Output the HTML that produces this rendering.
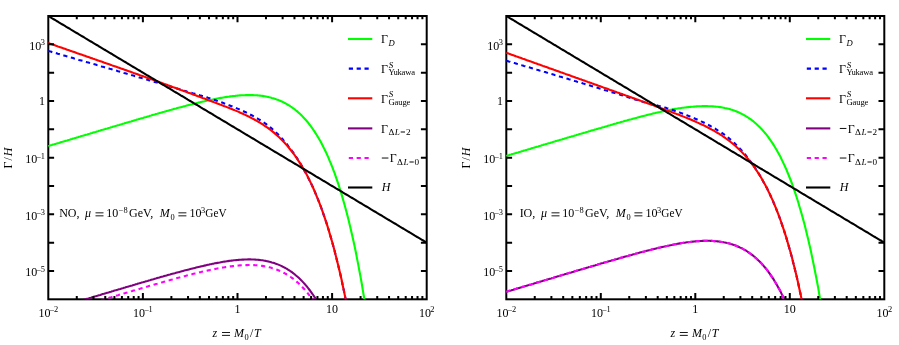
<!DOCTYPE html>
<html><head><meta charset="utf-8"><title>Rates</title>
<style>html,body{margin:0;padding:0;background:#fff;}body{width:899px;height:345px;overflow:hidden;font-family:"Liberation Serif",serif;}</style>
</head><body>
<svg width="899" height="345" viewBox="0 0 899 345" style="display:block;will-change:transform;transform:translateZ(0)">
<rect width="899" height="345" fill="#fff"/>
<defs><clipPath id="c0"><rect x="47.50" y="15.20" width="380.00" height="284.10"/></clipPath><clipPath id="c1"><rect x="505.50" y="15.20" width="379.60" height="284.10"/></clipPath></defs>
<rect x="48.30" y="16.00" width="378.40" height="283.30" stroke="#000" stroke-width="2.0" fill="none"/>
<g clip-path="url(#c0)" fill="none" stroke-width="2.1" stroke-linejoin="round">
<path d="M48.3,146.0 L49.5,145.7 L50.7,145.3 L51.8,145.0 L53.0,144.6 L54.2,144.3 L55.4,143.9 L56.6,143.6 L57.8,143.2 L58.9,142.9 L60.1,142.5 L61.3,142.1 L62.5,141.8 L63.7,141.4 L64.9,141.1 L66.0,140.7 L67.2,140.4 L68.4,140.0 L69.6,139.7 L70.8,139.3 L71.9,139.0 L73.1,138.6 L74.3,138.3 L75.5,137.9 L76.7,137.5 L77.9,137.2 L79.0,136.8 L80.2,136.5 L81.4,136.1 L82.6,135.8 L83.8,135.4 L85.0,135.1 L86.1,134.7 L87.3,134.4 L88.5,134.0 L89.7,133.7 L90.9,133.3 L92.1,133.0 L93.2,132.6 L94.4,132.2 L95.6,131.9 L96.8,131.5 L98.0,131.2 L99.1,130.8 L100.3,130.5 L101.5,130.1 L102.7,129.8 L103.9,129.4 L105.1,129.1 L106.2,128.7 L107.4,128.4 L108.6,128.0 L109.8,127.7 L111.0,127.3 L112.2,127.0 L113.3,126.6 L114.5,126.3 L115.7,125.9 L116.9,125.6 L118.1,125.2 L119.2,124.9 L120.4,124.5 L121.6,124.2 L122.8,123.8 L124.0,123.5 L125.2,123.1 L126.3,122.8 L127.5,122.4 L128.7,122.1 L129.9,121.7 L131.1,121.4 L132.3,121.0 L133.4,120.7 L134.6,120.3 L135.8,120.0 L137.0,119.6 L138.2,119.3 L139.4,118.9 L140.5,118.6 L141.7,118.2 L142.9,117.9 L144.1,117.5 L145.3,117.2 L146.4,116.9 L147.6,116.5 L148.8,116.2 L150.0,115.8 L151.2,115.5 L152.4,115.1 L153.5,114.8 L154.7,114.5 L155.9,114.1 L157.1,113.8 L158.3,113.4 L159.5,113.1 L160.6,112.8 L161.8,112.4 L163.0,112.1 L164.2,111.8 L165.4,111.4 L166.6,111.1 L167.7,110.8 L168.9,110.4 L170.1,110.1 L171.3,109.8 L172.5,109.4 L173.6,109.1 L174.8,108.8 L176.0,108.5 L177.2,108.1 L178.4,107.8 L179.6,107.5 L180.7,107.2 L181.9,106.9 L183.1,106.6 L184.3,106.2 L185.5,105.9 L186.7,105.6 L187.8,105.3 L189.0,105.0 L190.2,104.7 L191.4,104.4 L192.6,104.1 L193.7,103.8 L194.9,103.5 L196.1,103.2 L197.3,102.9 L198.5,102.6 L199.7,102.4 L200.8,102.1 L202.0,101.8 L203.2,101.5 L204.4,101.3 L205.6,101.0 L206.8,100.7 L207.9,100.5 L209.1,100.2 L210.3,99.9 L211.5,99.7 L212.7,99.5 L213.8,99.2 L215.0,99.0 L216.2,98.7 L217.4,98.5 L218.6,98.3 L219.8,98.1 L220.9,97.9 L222.1,97.7 L223.3,97.5 L224.5,97.3 L225.7,97.1 L226.9,96.9 L228.0,96.7 L229.2,96.6 L230.4,96.4 L231.6,96.3 L232.8,96.1 L234.0,96.0 L235.1,95.9 L236.3,95.7 L237.5,95.6 L238.7,95.5 L239.9,95.4 L241.0,95.3 L242.2,95.3 L243.4,95.2 L244.6,95.2 L245.8,95.1 L247.0,95.1 L248.1,95.1 L249.3,95.1 L250.5,95.1 L251.7,95.1 L252.9,95.1 L254.1,95.2 L255.2,95.2 L256.4,95.3 L257.6,95.4 L258.8,95.5 L260.0,95.6 L261.1,95.8 L262.3,95.9 L263.5,96.1 L264.7,96.3 L265.9,96.5 L267.1,96.7 L268.2,97.0 L269.4,97.3 L270.6,97.5 L271.8,97.9 L273.0,98.2 L274.2,98.6 L275.3,98.9 L276.5,99.4 L277.7,99.8 L278.9,100.3 L280.1,100.7 L281.3,101.3 L282.4,101.8 L283.6,102.4 L284.8,103.0 L286.0,103.6 L287.2,104.3 L288.3,105.0 L289.5,105.7 L290.7,106.5 L291.9,107.3 L293.1,108.2 L294.3,109.0 L295.4,110.0 L296.6,110.9 L297.8,111.9 L299.0,113.0 L300.2,114.1 L301.4,115.2 L302.5,116.4 L303.7,117.7 L304.9,119.0 L306.1,120.3 L307.3,121.7 L308.4,123.2 L309.6,124.7 L310.8,126.2 L312.0,127.9 L313.2,129.6 L314.4,131.3 L315.5,133.1 L316.7,135.0 L317.9,137.0 L319.1,139.0 L320.3,141.1 L321.5,143.3 L322.6,145.5 L323.8,147.9 L325.0,150.3 L326.2,152.8 L327.4,155.4 L328.6,158.1 L329.7,160.9 L330.9,163.7 L332.1,166.7 L333.3,169.8 L334.5,172.9 L335.6,176.2 L336.8,179.6 L338.0,183.1 L339.2,186.8 L340.4,190.5 L341.6,194.4 L342.7,198.4 L343.9,202.5 L345.1,206.8 L346.3,211.2 L347.5,215.8 L348.7,220.5 L349.8,225.3 L351.0,230.3 L352.2,235.5 L353.4,240.8 L354.6,246.3 L355.8,252.0 L356.9,257.9 L358.1,263.9 L359.3,270.2 L360.5,276.6 L361.7,283.3 L362.8,290.1 L364.0,297.2 L365.2,304.5 L366.4,312.0" stroke="#00ff00"/>
<path d="M48.3,50.9 L49.5,51.3 L50.7,51.6 L51.8,52.0 L53.0,52.3 L54.2,52.7 L55.4,53.0 L56.6,53.3 L57.8,53.7 L58.9,54.0 L60.1,54.4 L61.3,54.7 L62.5,55.1 L63.7,55.4 L64.9,55.7 L66.0,56.1 L67.2,56.4 L68.4,56.8 L69.6,57.1 L70.8,57.5 L71.9,57.8 L73.1,58.1 L74.3,58.5 L75.5,58.8 L76.7,59.2 L77.9,59.5 L79.0,59.9 L80.2,60.2 L81.4,60.5 L82.6,60.9 L83.8,61.2 L85.0,61.6 L86.1,61.9 L87.3,62.3 L88.5,62.6 L89.7,62.9 L90.9,63.3 L92.1,63.6 L93.2,64.0 L94.4,64.3 L95.6,64.6 L96.8,65.0 L98.0,65.3 L99.1,65.7 L100.3,66.0 L101.5,66.4 L102.7,66.7 L103.9,67.0 L105.1,67.4 L106.2,67.7 L107.4,68.1 L108.6,68.4 L109.8,68.8 L111.0,69.1 L112.2,69.4 L113.3,69.8 L114.5,70.1 L115.7,70.5 L116.9,70.8 L118.1,71.2 L119.2,71.5 L120.4,71.8 L121.6,72.2 L122.8,72.5 L124.0,72.9 L125.2,73.2 L126.3,73.6 L127.5,73.9 L128.7,74.3 L129.9,74.6 L131.1,74.9 L132.3,75.3 L133.4,75.6 L134.6,76.0 L135.8,76.3 L137.0,76.7 L138.2,77.0 L139.4,77.4 L140.5,77.7 L141.7,78.1 L142.9,78.4 L144.1,78.8 L145.3,79.1 L146.4,79.5 L147.6,79.8 L148.8,80.2 L150.0,80.5 L151.2,80.9 L152.4,81.2 L153.5,81.6 L154.7,81.9 L155.9,82.3 L157.1,82.6 L158.3,83.0 L159.5,83.3 L160.6,83.7 L161.8,84.0 L163.0,84.4 L164.2,84.7 L165.4,85.1 L166.6,85.4 L167.7,85.8 L168.9,86.1 L170.1,86.5 L171.3,86.8 L172.5,87.2 L173.6,87.6 L174.8,87.9 L176.0,88.3 L177.2,88.6 L178.4,89.0 L179.6,89.3 L180.7,89.7 L181.9,90.0 L183.1,90.4 L184.3,90.8 L185.5,91.1 L186.7,91.5 L187.8,91.8 L189.0,92.2 L190.2,92.5 L191.4,92.8 L192.6,93.2 L193.7,93.5 L194.9,93.8 L196.1,94.2 L197.3,94.5 L198.5,94.8 L199.7,95.2 L200.8,95.5 L202.0,95.9 L203.2,96.2 L204.4,96.6 L205.6,96.9 L206.8,97.3 L207.9,97.7 L209.1,98.1 L210.3,98.4 L211.5,98.8 L212.7,99.3 L213.8,99.7 L215.0,100.1 L216.2,100.5 L217.4,100.9 L218.6,101.3 L219.8,101.8 L220.9,102.2 L222.1,102.6 L223.3,103.0 L224.5,103.5 L225.7,103.9 L226.9,104.4 L228.0,104.8 L229.2,105.3 L230.4,105.7 L231.6,106.2 L232.8,106.7 L234.0,107.1 L235.1,107.6 L236.3,108.1 L237.5,108.6 L238.7,109.1 L239.9,109.6 L241.0,110.1 L242.2,110.7 L243.4,111.2 L244.6,111.8 L245.8,112.3 L247.0,112.9 L248.1,113.5 L249.3,114.1 L250.5,114.7 L251.7,115.3 L252.9,115.9 L254.1,116.5 L255.2,117.2 L256.4,117.9 L257.6,118.6 L258.8,119.3 L260.0,120.0 L261.1,120.7 L262.3,121.5 L263.5,122.3 L264.7,123.1 L265.9,123.9 L267.1,124.8 L268.2,125.7 L269.4,126.6 L270.6,127.6 L271.8,128.6 L273.0,129.7 L274.2,130.7 L275.3,131.8 L276.5,132.9 L277.7,134.1 L278.9,135.3 L280.1,136.5 L281.3,137.7 L282.4,139.0 L283.6,140.4 L284.8,141.7 L286.0,143.1 L287.2,144.6 L288.3,146.1 L289.5,147.6 L290.7,149.2 L291.9,150.8 L293.1,152.4 L294.3,154.1 L295.4,155.8 L296.6,157.6 L297.8,159.4 L299.0,161.3 L300.2,163.2 L301.4,165.2 L302.5,167.2 L303.7,169.3 L304.9,171.4 L306.1,173.6 L307.3,175.8 L308.4,178.1 L309.6,180.5 L310.8,182.9 L312.0,185.4 L313.2,188.0 L314.4,190.7 L315.5,193.4 L316.7,196.3 L317.9,199.2 L319.1,202.2 L320.3,205.3 L321.5,208.5 L322.6,211.7 L323.8,215.1 L325.0,218.6 L326.2,222.2 L327.4,225.9 L328.6,229.7 L329.7,233.6 L330.9,237.6 L332.1,241.8 L333.3,246.1 L334.5,250.5 L335.6,255.0 L336.8,259.7 L338.0,264.5 L339.2,269.5 L340.4,274.6 L341.6,279.8 L342.7,285.3 L343.9,290.8 L345.1,296.6 L346.3,302.5 L347.5,308.6 L348.7,314.9" stroke="#0000ff" stroke-dasharray="4.2 3.65"/>
<path d="M48.3,43.1 L49.5,43.5 L50.7,43.9 L51.8,44.3 L53.0,44.7 L54.2,45.1 L55.4,45.5 L56.6,45.9 L57.8,46.4 L58.9,46.8 L60.1,47.2 L61.3,47.6 L62.5,48.0 L63.7,48.4 L64.9,48.8 L66.0,49.2 L67.2,49.7 L68.4,50.1 L69.6,50.5 L70.8,50.9 L71.9,51.3 L73.1,51.7 L74.3,52.1 L75.5,52.5 L76.7,53.0 L77.9,53.4 L79.0,53.8 L80.2,54.2 L81.4,54.6 L82.6,55.0 L83.8,55.4 L85.0,55.8 L86.1,56.3 L87.3,56.7 L88.5,57.1 L89.7,57.5 L90.9,57.9 L92.1,58.3 L93.2,58.7 L94.4,59.1 L95.6,59.6 L96.8,60.0 L98.0,60.4 L99.1,60.8 L100.3,61.2 L101.5,61.6 L102.7,62.0 L103.9,62.5 L105.1,62.9 L106.2,63.3 L107.4,63.7 L108.6,64.1 L109.8,64.5 L111.0,64.9 L112.2,65.4 L113.3,65.8 L114.5,66.2 L115.7,66.6 L116.9,67.0 L118.1,67.4 L119.2,67.8 L120.4,68.3 L121.6,68.7 L122.8,69.1 L124.0,69.5 L125.2,69.9 L126.3,70.3 L127.5,70.8 L128.7,71.2 L129.9,71.6 L131.1,72.0 L132.3,72.4 L133.4,72.9 L134.6,73.3 L135.8,73.7 L137.0,74.1 L138.2,74.5 L139.4,75.0 L140.5,75.4 L141.7,75.8 L142.9,76.2 L144.1,76.6 L145.3,77.1 L146.4,77.5 L147.6,77.9 L148.8,78.3 L150.0,78.7 L151.2,79.2 L152.4,79.6 L153.5,80.0 L154.7,80.4 L155.9,80.9 L157.1,81.3 L158.3,81.7 L159.5,82.1 L160.6,82.6 L161.8,83.0 L163.0,83.4 L164.2,83.9 L165.4,84.3 L166.6,84.7 L167.7,85.1 L168.9,85.6 L170.1,86.0 L171.3,86.4 L172.5,86.9 L173.6,87.3 L174.8,87.7 L176.0,88.1 L177.2,88.6 L178.4,89.0 L179.6,89.4 L180.7,89.9 L181.9,90.3 L183.1,90.7 L184.3,91.2 L185.5,91.6 L186.7,92.0 L187.8,92.5 L189.0,92.9 L190.2,93.3 L191.4,93.8 L192.6,94.2 L193.7,94.7 L194.9,95.1 L196.1,95.5 L197.3,96.0 L198.5,96.4 L199.7,96.8 L200.8,97.3 L202.0,97.7 L203.2,98.2 L204.4,98.6 L205.6,99.0 L206.8,99.5 L207.9,99.9 L209.1,100.4 L210.3,100.8 L211.5,101.2 L212.7,101.7 L213.8,102.1 L215.0,102.6 L216.2,103.0 L217.4,103.5 L218.6,103.9 L219.8,104.4 L220.9,104.8 L222.1,105.3 L223.3,105.7 L224.5,106.2 L225.7,106.6 L226.9,107.1 L228.0,107.6 L229.2,108.0 L230.4,108.5 L231.6,109.0 L232.8,109.5 L234.0,109.9 L235.1,110.4 L236.3,110.9 L237.5,111.4 L238.7,111.9 L239.9,112.5 L241.0,113.0 L242.2,113.5 L243.4,114.0 L244.6,114.6 L245.8,115.1 L247.0,115.7 L248.1,116.3 L249.3,116.9 L250.5,117.5 L251.7,118.1 L252.9,118.7 L254.1,119.3 L255.2,120.0 L256.4,120.6 L257.6,121.3 L258.8,122.0 L260.0,122.7 L261.1,123.5 L262.3,124.2 L263.5,125.0 L264.7,125.8 L265.9,126.6 L267.1,127.4 L268.2,128.2 L269.4,129.1 L270.6,130.0 L271.8,130.9 L273.0,131.9 L274.2,132.9 L275.3,133.9 L276.5,134.9 L277.7,136.0 L278.9,137.1 L280.1,138.2 L281.3,139.4 L282.4,140.6 L283.6,141.8 L284.8,143.0 L286.0,144.4 L287.2,145.7 L288.3,147.1 L289.5,148.5 L290.7,150.0 L291.9,151.5 L293.1,153.0 L294.3,154.6 L295.4,156.3 L296.6,158.0 L297.8,159.8 L299.0,161.6 L300.2,163.4 L301.4,165.3 L302.5,167.3 L303.7,169.4 L304.9,171.5 L306.1,173.6 L307.3,175.8 L308.4,178.1 L309.6,180.5 L310.8,182.9 L312.0,185.4 L313.2,188.0 L314.4,190.7 L315.5,193.4 L316.7,196.3 L317.9,199.2 L319.1,202.2 L320.3,205.3 L321.5,208.5 L322.6,211.7 L323.8,215.1 L325.0,218.6 L326.2,222.2 L327.4,225.9 L328.6,229.7 L329.7,233.6 L330.9,237.6 L332.1,241.8 L333.3,246.1 L334.5,250.5 L335.6,255.0 L336.8,259.7 L338.0,264.5 L339.2,269.5 L340.4,274.6 L341.6,279.8 L342.7,285.3 L343.9,290.8 L345.1,296.6 L346.3,302.5 L347.5,308.6 L348.7,314.9" stroke="#ff0000"/>
<path d="M48.3,310.4 L49.5,310.1 L50.7,309.7 L51.8,309.3 L53.0,309.0 L54.2,308.6 L55.4,308.3 L56.6,307.9 L57.8,307.6 L58.9,307.2 L60.1,306.9 L61.3,306.5 L62.5,306.2 L63.7,305.8 L64.9,305.5 L66.0,305.1 L67.2,304.7 L68.4,304.4 L69.6,304.0 L70.8,303.7 L71.9,303.3 L73.1,303.0 L74.3,302.6 L75.5,302.3 L76.7,301.9 L77.9,301.6 L79.0,301.2 L80.2,300.9 L81.4,300.5 L82.6,300.2 L83.8,299.8 L85.0,299.4 L86.1,299.1 L87.3,298.7 L88.5,298.4 L89.7,298.0 L90.9,297.7 L92.1,297.3 L93.2,297.0 L94.4,296.6 L95.6,296.3 L96.8,295.9 L98.0,295.6 L99.1,295.2 L100.3,294.9 L101.5,294.5 L102.7,294.1 L103.9,293.8 L105.1,293.4 L106.2,293.1 L107.4,292.7 L108.6,292.4 L109.8,292.0 L111.0,291.7 L112.2,291.3 L113.3,291.0 L114.5,290.6 L115.7,290.3 L116.9,289.9 L118.1,289.6 L119.2,289.2 L120.4,288.9 L121.6,288.5 L122.8,288.2 L124.0,287.8 L125.2,287.5 L126.3,287.1 L127.5,286.8 L128.7,286.4 L129.9,286.1 L131.1,285.7 L132.3,285.4 L133.4,285.0 L134.6,284.7 L135.8,284.3 L137.0,284.0 L138.2,283.6 L139.4,283.3 L140.5,282.9 L141.7,282.6 L142.9,282.3 L144.1,281.9 L145.3,281.6 L146.4,281.2 L147.6,280.9 L148.8,280.5 L150.0,280.2 L151.2,279.8 L152.4,279.5 L153.5,279.2 L154.7,278.8 L155.9,278.5 L157.1,278.1 L158.3,277.8 L159.5,277.5 L160.6,277.1 L161.8,276.8 L163.0,276.5 L164.2,276.1 L165.4,275.8 L166.6,275.5 L167.7,275.1 L168.9,274.8 L170.1,274.5 L171.3,274.1 L172.5,273.8 L173.6,273.5 L174.8,273.2 L176.0,272.8 L177.2,272.5 L178.4,272.2 L179.6,271.9 L180.7,271.6 L181.9,271.2 L183.1,270.9 L184.3,270.6 L185.5,270.3 L186.7,270.0 L187.8,269.7 L189.0,269.4 L190.2,269.1 L191.4,268.8 L192.6,268.5 L193.7,268.2 L194.9,267.9 L196.1,267.6 L197.3,267.3 L198.5,267.0 L199.7,266.7 L200.8,266.4 L202.0,266.2 L203.2,265.9 L204.4,265.6 L205.6,265.4 L206.8,265.1 L207.9,264.8 L209.1,264.6 L210.3,264.3 L211.5,264.1 L212.7,263.8 L213.8,263.6 L215.0,263.3 L216.2,263.1 L217.4,262.9 L218.6,262.7 L219.8,262.5 L220.9,262.2 L222.1,262.0 L223.3,261.8 L224.5,261.6 L225.7,261.5 L226.9,261.3 L228.0,261.1 L229.2,260.9 L230.4,260.8 L231.6,260.6 L232.8,260.5 L234.0,260.3 L235.1,260.2 L236.3,260.1 L237.5,260.0 L238.7,259.9 L239.9,259.8 L241.0,259.7 L242.2,259.6 L243.4,259.6 L244.6,259.5 L245.8,259.5 L247.0,259.5 L248.1,259.4 L249.3,259.4 L250.5,259.4 L251.7,259.5 L252.9,259.5 L254.1,259.5 L255.2,259.6 L256.4,259.7 L257.6,259.8 L258.8,259.9 L260.0,260.0 L261.1,260.2 L262.3,260.3 L263.5,260.5 L264.7,260.7 L265.9,260.9 L267.1,261.2 L268.2,261.4 L269.4,261.7 L270.6,262.0 L271.8,262.4 L273.0,262.7 L274.2,263.1 L275.3,263.5 L276.5,263.9 L277.7,264.4 L278.9,264.9 L280.1,265.4 L281.3,265.9 L282.4,266.5 L283.6,267.1 L284.8,267.7 L286.0,268.4 L287.2,269.0 L288.3,269.8 L289.5,270.5 L290.7,271.3 L291.9,272.2 L293.1,273.1 L294.3,274.0 L295.4,275.0 L296.6,276.0 L297.8,277.0 L299.0,278.1 L300.2,279.2 L301.4,280.4 L302.5,281.6 L303.7,282.9 L304.9,284.2 L306.1,285.6 L307.3,287.0 L308.4,288.5 L309.6,290.0 L310.8,291.6 L312.0,293.3 L313.2,295.0 L314.4,296.8 L315.5,298.6 L316.7,300.5 L317.9,302.5 L319.1,304.5 L320.3,306.6 L321.5,308.8 L322.6,311.0 L323.8,313.4 L325.0,315.8" stroke="#800080"/>
<path d="M48.3,316.0 L49.5,315.7 L50.7,315.3 L51.8,315.0 L53.0,314.6 L54.2,314.2 L55.4,313.9 L56.6,313.5 L57.8,313.2 L58.9,312.8 L60.1,312.5 L61.3,312.1 L62.5,311.8 L63.7,311.4 L64.9,311.1 L66.0,310.7 L67.2,310.4 L68.4,310.0 L69.6,309.6 L70.8,309.3 L71.9,308.9 L73.1,308.6 L74.3,308.2 L75.5,307.9 L76.7,307.5 L77.9,307.2 L79.0,306.8 L80.2,306.5 L81.4,306.1 L82.6,305.8 L83.8,305.4 L85.0,305.1 L86.1,304.7 L87.3,304.3 L88.5,304.0 L89.7,303.6 L90.9,303.3 L92.1,302.9 L93.2,302.6 L94.4,302.2 L95.6,301.9 L96.8,301.5 L98.0,301.2 L99.1,300.8 L100.3,300.5 L101.5,300.1 L102.7,299.8 L103.9,299.4 L105.1,299.1 L106.2,298.7 L107.4,298.3 L108.6,298.0 L109.8,297.6 L111.0,297.3 L112.2,296.9 L113.3,296.6 L114.5,296.2 L115.7,295.9 L116.9,295.5 L118.1,295.2 L119.2,294.8 L120.4,294.5 L121.6,294.1 L122.8,293.8 L124.0,293.4 L125.2,293.1 L126.3,292.7 L127.5,292.4 L128.7,292.0 L129.9,291.7 L131.1,291.3 L132.3,291.0 L133.4,290.6 L134.6,290.3 L135.8,289.9 L137.0,289.6 L138.2,289.3 L139.4,288.9 L140.5,288.6 L141.7,288.2 L142.9,287.9 L144.1,287.5 L145.3,287.2 L146.4,286.8 L147.6,286.5 L148.8,286.1 L150.0,285.8 L151.2,285.5 L152.4,285.1 L153.5,284.8 L154.7,284.4 L155.9,284.1 L157.1,283.8 L158.3,283.4 L159.5,283.1 L160.6,282.7 L161.8,282.4 L163.0,282.1 L164.2,281.7 L165.4,281.4 L166.6,281.1 L167.7,280.7 L168.9,280.4 L170.1,280.1 L171.3,279.7 L172.5,279.4 L173.6,279.1 L174.8,278.8 L176.0,278.4 L177.2,278.1 L178.4,277.8 L179.6,277.5 L180.7,277.2 L181.9,276.8 L183.1,276.5 L184.3,276.2 L185.5,275.9 L186.7,275.6 L187.8,275.3 L189.0,275.0 L190.2,274.7 L191.4,274.4 L192.6,274.1 L193.7,273.8 L194.9,273.5 L196.1,273.2 L197.3,272.9 L198.5,272.6 L199.7,272.3 L200.8,272.1 L202.0,271.8 L203.2,271.5 L204.4,271.2 L205.6,271.0 L206.8,270.7 L207.9,270.4 L209.1,270.2 L210.3,269.9 L211.5,269.7 L212.7,269.4 L213.8,269.2 L215.0,269.0 L216.2,268.7 L217.4,268.5 L218.6,268.3 L219.8,268.1 L220.9,267.9 L222.1,267.6 L223.3,267.5 L224.5,267.3 L225.7,267.1 L226.9,266.9 L228.0,266.7 L229.2,266.6 L230.4,266.4 L231.6,266.2 L232.8,266.1 L234.0,266.0 L235.1,265.8 L236.3,265.7 L237.5,265.6 L238.7,265.5 L239.9,265.4 L241.0,265.3 L242.2,265.3 L243.4,265.2 L244.6,265.1 L245.8,265.1 L247.0,265.1 L248.1,265.0 L249.3,265.0 L250.5,265.0 L251.7,265.1 L252.9,265.1 L254.1,265.1 L255.2,265.2 L256.4,265.3 L257.6,265.4 L258.8,265.5 L260.0,265.6 L261.1,265.8 L262.3,265.9 L263.5,266.1 L264.7,266.3 L265.9,266.5 L267.1,266.8 L268.2,267.0 L269.4,267.3 L270.6,267.6 L271.8,268.0 L273.0,268.3 L274.2,268.7 L275.3,269.1 L276.5,269.5 L277.7,270.0 L278.9,270.5 L280.1,271.0 L281.3,271.5 L282.4,272.1 L283.6,272.7 L284.8,273.3 L286.0,274.0 L287.2,274.7 L288.3,275.4 L289.5,276.2 L290.7,277.0 L291.9,277.8 L293.1,278.7 L294.3,279.6 L295.4,280.6 L296.6,281.6 L297.8,282.6 L299.0,283.7 L300.2,284.8 L301.4,286.0 L302.5,287.2 L303.7,288.5 L304.9,289.8 L306.1,291.2 L307.3,292.6 L308.4,294.1 L309.6,295.6 L310.8,297.2 L312.0,298.9 L313.2,300.6 L314.4,302.4 L315.5,304.2 L316.7,306.1 L317.9,308.1 L319.1,310.1 L320.3,312.2 L321.5,314.4" stroke="#ff00ff" stroke-dasharray="4.2 3.65"/>
<path d="M48.3,16.0 L49.5,16.7 L50.7,17.4 L51.8,18.1 L53.0,18.8 L54.2,19.5 L55.4,20.2 L56.6,21.0 L57.8,21.7 L58.9,22.4 L60.1,23.1 L61.3,23.8 L62.5,24.5 L63.7,25.2 L64.9,25.9 L66.0,26.6 L67.2,27.3 L68.4,28.0 L69.6,28.7 L70.8,29.5 L71.9,30.2 L73.1,30.9 L74.3,31.6 L75.5,32.3 L76.7,33.0 L77.9,33.7 L79.0,34.4 L80.2,35.1 L81.4,35.8 L82.6,36.5 L83.8,37.2 L85.0,38.0 L86.1,38.7 L87.3,39.4 L88.5,40.1 L89.7,40.8 L90.9,41.5 L92.1,42.2 L93.2,42.9 L94.4,43.6 L95.6,44.3 L96.8,45.0 L98.0,45.7 L99.1,46.5 L100.3,47.2 L101.5,47.9 L102.7,48.6 L103.9,49.3 L105.1,50.0 L106.2,50.7 L107.4,51.4 L108.6,52.1 L109.8,52.8 L111.0,53.5 L112.2,54.2 L113.3,55.0 L114.5,55.7 L115.7,56.4 L116.9,57.1 L118.1,57.8 L119.2,58.5 L120.4,59.2 L121.6,59.9 L122.8,60.6 L124.0,61.3 L125.2,62.0 L126.3,62.7 L127.5,63.5 L128.7,64.2 L129.9,64.9 L131.1,65.6 L132.3,66.3 L133.4,67.0 L134.6,67.7 L135.8,68.4 L137.0,69.1 L138.2,69.8 L139.4,70.5 L140.5,71.2 L141.7,72.0 L142.9,72.7 L144.1,73.4 L145.3,74.1 L146.4,74.8 L147.6,75.5 L148.8,76.2 L150.0,76.9 L151.2,77.6 L152.4,78.3 L153.5,79.0 L154.7,79.7 L155.9,80.5 L157.1,81.2 L158.3,81.9 L159.5,82.6 L160.6,83.3 L161.8,84.0 L163.0,84.7 L164.2,85.4 L165.4,86.1 L166.6,86.8 L167.7,87.5 L168.9,88.2 L170.1,88.9 L171.3,89.7 L172.5,90.4 L173.6,91.1 L174.8,91.8 L176.0,92.5 L177.2,93.2 L178.4,93.9 L179.6,94.6 L180.7,95.3 L181.9,96.0 L183.1,96.7 L184.3,97.4 L185.5,98.2 L186.7,98.9 L187.8,99.6 L189.0,100.3 L190.2,101.0 L191.4,101.7 L192.6,102.4 L193.7,103.1 L194.9,103.8 L196.1,104.5 L197.3,105.2 L198.5,105.9 L199.7,106.7 L200.8,107.4 L202.0,108.1 L203.2,108.8 L204.4,109.5 L205.6,110.2 L206.8,110.9 L207.9,111.6 L209.1,112.3 L210.3,113.0 L211.5,113.7 L212.7,114.4 L213.8,115.2 L215.0,115.9 L216.2,116.6 L217.4,117.3 L218.6,118.0 L219.8,118.7 L220.9,119.4 L222.1,120.1 L223.3,120.8 L224.5,121.5 L225.7,122.2 L226.9,122.9 L228.0,123.7 L229.2,124.4 L230.4,125.1 L231.6,125.8 L232.8,126.5 L234.0,127.2 L235.1,127.9 L236.3,128.6 L237.5,129.3 L238.7,130.0 L239.9,130.7 L241.0,131.4 L242.2,132.2 L243.4,132.9 L244.6,133.6 L245.8,134.3 L247.0,135.0 L248.1,135.7 L249.3,136.4 L250.5,137.1 L251.7,137.8 L252.9,138.5 L254.1,139.2 L255.2,139.9 L256.4,140.7 L257.6,141.4 L258.8,142.1 L260.0,142.8 L261.1,143.5 L262.3,144.2 L263.5,144.9 L264.7,145.6 L265.9,146.3 L267.1,147.0 L268.2,147.7 L269.4,148.4 L270.6,149.2 L271.8,149.9 L273.0,150.6 L274.2,151.3 L275.3,152.0 L276.5,152.7 L277.7,153.4 L278.9,154.1 L280.1,154.8 L281.3,155.5 L282.4,156.2 L283.6,156.9 L284.8,157.7 L286.0,158.4 L287.2,159.1 L288.3,159.8 L289.5,160.5 L290.7,161.2 L291.9,161.9 L293.1,162.6 L294.3,163.3 L295.4,164.0 L296.6,164.7 L297.8,165.4 L299.0,166.1 L300.2,166.9 L301.4,167.6 L302.5,168.3 L303.7,169.0 L304.9,169.7 L306.1,170.4 L307.3,171.1 L308.4,171.8 L309.6,172.5 L310.8,173.2 L312.0,173.9 L313.2,174.6 L314.4,175.4 L315.5,176.1 L316.7,176.8 L317.9,177.5 L319.1,178.2 L320.3,178.9 L321.5,179.6 L322.6,180.3 L323.8,181.0 L325.0,181.7 L326.2,182.4 L327.4,183.1 L328.6,183.9 L329.7,184.6 L330.9,185.3 L332.1,186.0 L333.3,186.7 L334.5,187.4 L335.6,188.1 L336.8,188.8 L338.0,189.5 L339.2,190.2 L340.4,190.9 L341.6,191.6 L342.7,192.4 L343.9,193.1 L345.1,193.8 L346.3,194.5 L347.5,195.2 L348.7,195.9 L349.8,196.6 L351.0,197.3 L352.2,198.0 L353.4,198.7 L354.6,199.4 L355.8,200.1 L356.9,200.9 L358.1,201.6 L359.3,202.3 L360.5,203.0 L361.7,203.7 L362.8,204.4 L364.0,205.1 L365.2,205.8 L366.4,206.5 L367.6,207.2 L368.8,207.9 L369.9,208.6 L371.1,209.4 L372.3,210.1 L373.5,210.8 L374.7,211.5 L375.9,212.2 L377.0,212.9 L378.2,213.6 L379.4,214.3 L380.6,215.0 L381.8,215.7 L382.9,216.4 L384.1,217.1 L385.3,217.9 L386.5,218.6 L387.7,219.3 L388.9,220.0 L390.0,220.7 L391.2,221.4 L392.4,222.1 L393.6,222.8 L394.8,223.5 L396.0,224.2 L397.1,224.9 L398.3,225.6 L399.5,226.4 L400.7,227.1 L401.9,227.8 L403.1,228.5 L404.2,229.2 L405.4,229.9 L406.6,230.6 L407.8,231.3 L409.0,232.0 L410.1,232.7 L411.3,233.4 L412.5,234.1 L413.7,234.8 L414.9,235.6 L416.1,236.3 L417.2,237.0 L418.4,237.7 L419.6,238.4 L420.8,239.1 L422.0,239.8 L423.2,240.5 L424.3,241.2 L425.5,241.9 L426.7,242.6" stroke="#000000"/>
</g>
<g stroke="#000" stroke-width="2.0" fill="none">
<path d="M76.78,299.3 v-3.3 M76.78,16.0 v3.3"/>
<path d="M93.44,299.3 v-3.3 M93.44,16.0 v3.3"/>
<path d="M105.25,299.3 v-3.3 M105.25,16.0 v3.3"/>
<path d="M114.42,299.3 v-3.3 M114.42,16.0 v3.3"/>
<path d="M121.91,299.3 v-3.3 M121.91,16.0 v3.3"/>
<path d="M128.25,299.3 v-3.3 M128.25,16.0 v3.3"/>
<path d="M133.73,299.3 v-3.3 M133.73,16.0 v3.3"/>
<path d="M138.57,299.3 v-3.3 M138.57,16.0 v3.3"/>
<path d="M142.90,299.3 v-6.2 M142.90,16.0 v6.2"/>
<path d="M171.38,299.3 v-3.3 M171.38,16.0 v3.3"/>
<path d="M188.04,299.3 v-3.3 M188.04,16.0 v3.3"/>
<path d="M199.85,299.3 v-3.3 M199.85,16.0 v3.3"/>
<path d="M209.02,299.3 v-3.3 M209.02,16.0 v3.3"/>
<path d="M216.51,299.3 v-3.3 M216.51,16.0 v3.3"/>
<path d="M222.85,299.3 v-3.3 M222.85,16.0 v3.3"/>
<path d="M228.33,299.3 v-3.3 M228.33,16.0 v3.3"/>
<path d="M233.17,299.3 v-3.3 M233.17,16.0 v3.3"/>
<path d="M237.50,299.3 v-6.2 M237.50,16.0 v6.2"/>
<path d="M265.98,299.3 v-3.3 M265.98,16.0 v3.3"/>
<path d="M282.64,299.3 v-3.3 M282.64,16.0 v3.3"/>
<path d="M294.45,299.3 v-3.3 M294.45,16.0 v3.3"/>
<path d="M303.62,299.3 v-3.3 M303.62,16.0 v3.3"/>
<path d="M311.11,299.3 v-3.3 M311.11,16.0 v3.3"/>
<path d="M317.45,299.3 v-3.3 M317.45,16.0 v3.3"/>
<path d="M322.93,299.3 v-3.3 M322.93,16.0 v3.3"/>
<path d="M327.77,299.3 v-3.3 M327.77,16.0 v3.3"/>
<path d="M332.10,299.3 v-6.2 M332.10,16.0 v6.2"/>
<path d="M360.58,299.3 v-3.3 M360.58,16.0 v3.3"/>
<path d="M377.24,299.3 v-3.3 M377.24,16.0 v3.3"/>
<path d="M389.05,299.3 v-3.3 M389.05,16.0 v3.3"/>
<path d="M398.22,299.3 v-3.3 M398.22,16.0 v3.3"/>
<path d="M405.71,299.3 v-3.3 M405.71,16.0 v3.3"/>
<path d="M412.05,299.3 v-3.3 M412.05,16.0 v3.3"/>
<path d="M417.53,299.3 v-3.3 M417.53,16.0 v3.3"/>
<path d="M422.37,299.3 v-3.3 M422.37,16.0 v3.3"/>
<path d="M48.30,270.97 h5.8 M426.70,270.97 h-5.8"/>
<path d="M48.30,242.64 h5.8 M426.70,242.64 h-5.8"/>
<path d="M48.30,214.31 h5.8 M426.70,214.31 h-5.8"/>
<path d="M48.30,185.98 h5.8 M426.70,185.98 h-5.8"/>
<path d="M48.30,157.65 h5.8 M426.70,157.65 h-5.8"/>
<path d="M48.30,129.32 h5.8 M426.70,129.32 h-5.8"/>
<path d="M48.30,100.99 h5.8 M426.70,100.99 h-5.8"/>
<path d="M48.30,72.66 h5.8 M426.70,72.66 h-5.8"/>
<path d="M48.30,44.33 h5.8 M426.70,44.33 h-5.8"/>
</g>
<g font-family="Liberation Serif, serif" font-size="12px" fill="#000">
<text x="48.30" y="316.80" text-anchor="middle">10<tspan dx="-0.6" dy="-4.4" font-size="8.4px">–2</tspan></text>
<text x="142.90" y="316.80" text-anchor="middle">10<tspan dx="-0.6" dy="-4.4" font-size="8.4px">–1</tspan></text>
<text x="237.50" y="312.80" text-anchor="middle">1</text>
<text x="332.10" y="312.80" text-anchor="middle">10</text>
<text x="426.70" y="316.80" text-anchor="middle">10<tspan dx="-0.6" dy="-4.4" font-size="8.4px">2</tspan></text>
<text x="44.90" y="49.63" text-anchor="end">10<tspan dx="-0.6" dy="-4.4" font-size="8.4px">3</tspan></text>
<text x="44.90" y="104.99" text-anchor="end">1</text>
<text x="44.90" y="162.95" text-anchor="end">10<tspan dx="-0.6" dy="-4.4" font-size="8.4px">–1</tspan></text>
<text x="44.90" y="219.61" text-anchor="end">10<tspan dx="-0.6" dy="-4.4" font-size="8.4px">–3</tspan></text>
<text x="44.90" y="276.27" text-anchor="end">10<tspan dx="-0.6" dy="-4.4" font-size="8.4px">–5</tspan></text>
<text y="337.3"><tspan x="212.60" font-style="italic">z</tspan><tspan x="234.10" font-style="italic">M</tspan><tspan x="244.40" dy="2.4" font-size="8.4px">0</tspan><tspan x="249.90" dy="-2.4">/</tspan><tspan x="253.90" font-style="italic">T</tspan></text>
<rect x="222.00" y="332.0" width="8" height="0.9"/>
<rect x="222.00" y="334.9" width="8" height="0.9"/>
<text transform="translate(12.30,157.5) rotate(-90)" text-anchor="middle" letter-spacing="1">Γ/<tspan font-style="italic">H</tspan></text>
<text y="217.4"><tspan x="59.2">NO,</tspan><tspan x="85.10" font-style="italic">μ</tspan><tspan x="106.30">10</tspan><tspan x="118.80" dy="-4.4" font-size="8.4px">−8</tspan><tspan x="129.10" dy="4.4">GeV,</tspan><tspan x="159.70" font-style="italic">M</tspan><tspan x="170.40" dy="2.5" font-size="8.4px">0</tspan><tspan x="189.40" dy="-2.5">10</tspan><tspan x="201.10" dy="-4.4" font-size="8.4px">3</tspan><tspan x="205.30" dy="4.4" textLength="21.2" lengthAdjust="spacingAndGlyphs">GeV</tspan></text>
<rect x="95.50" y="212.4" width="8" height="0.9"/>
<rect x="95.50" y="215.4" width="8" height="0.9"/>
<rect x="178.40" y="212.4" width="8" height="0.9"/>
<rect x="178.40" y="215.4" width="8" height="0.9"/>
</g>
<g fill="none" stroke-width="2.1">
<path d="M348.00,39.0 H372.30" stroke="#00ff00"/>
<path d="M348.80,68.6 H372.30" stroke="#0000ff" stroke-dasharray="4.2 3.65"/>
<path d="M348.00,98.3 H372.30" stroke="#ff0000"/>
<path d="M348.00,128.4 H372.30" stroke="#800080"/>
<path d="M348.80,158.0 H372.30" stroke="#ff00ff" stroke-dasharray="4.2 3.65"/>
<path d="M348.00,187.5 H372.30" stroke="#000"/>
</g>
<g font-family="Liberation Serif, serif" font-size="12px" fill="#000">
<text x="381.10" y="43.20">Γ</text><text x="388.40" y="46.00" font-size="8.6px" font-style="italic">D</text>
<text x="381.10" y="72.80">Γ</text><text x="388.70" y="67.60" font-size="9px" font-style="italic">S</text><text x="388.40" y="75.40" font-size="8.6px" textLength="26.6" lengthAdjust="spacing">Yukawa</text>
<text x="381.10" y="102.50">Γ</text><text x="388.70" y="97.30" font-size="9px" font-style="italic">S</text><text x="388.40" y="105.10" font-size="8.6px" textLength="22.0" lengthAdjust="spacing">Gauge</text>
<text x="381.10" y="132.60">Γ</text><text x="388.40" y="135.40" font-size="9.2px" textLength="22.2" lengthAdjust="spacing">Δ<tspan font-style="italic">L</tspan>=2</text>
<rect x="381.80" y="157.55" width="6.6" height="0.95"/><text x="389.70" y="162.20">Γ</text><text x="397.00" y="165.00" font-size="9.2px" textLength="22.2" lengthAdjust="spacing">Δ<tspan font-style="italic">L</tspan>=0</text>
<text x="381.70" y="191.30" font-style="italic">H</text>
</g>
<rect x="506.30" y="16.00" width="378.00" height="283.30" stroke="#000" stroke-width="2.0" fill="none"/>
<g clip-path="url(#c1)" fill="none" stroke-width="2.1" stroke-linejoin="round">
<path d="M506.3,155.9 L507.5,155.5 L508.7,155.2 L509.8,154.8 L511.0,154.5 L512.2,154.1 L513.4,153.8 L514.6,153.4 L515.8,153.1 L516.9,152.7 L518.1,152.4 L519.3,152.0 L520.5,151.7 L521.7,151.3 L522.8,151.0 L524.0,150.6 L525.2,150.3 L526.4,149.9 L527.6,149.6 L528.7,149.2 L529.9,148.9 L531.1,148.5 L532.3,148.1 L533.5,147.8 L534.6,147.4 L535.8,147.1 L537.0,146.7 L538.2,146.4 L539.4,146.0 L540.6,145.7 L541.7,145.3 L542.9,145.0 L544.1,144.6 L545.3,144.3 L546.5,143.9 L547.6,143.6 L548.8,143.2 L550.0,142.9 L551.2,142.5 L552.4,142.2 L553.5,141.8 L554.7,141.5 L555.9,141.1 L557.1,140.8 L558.3,140.4 L559.5,140.1 L560.6,139.7 L561.8,139.4 L563.0,139.0 L564.2,138.7 L565.4,138.3 L566.5,138.0 L567.7,137.6 L568.9,137.3 L570.1,136.9 L571.3,136.6 L572.5,136.2 L573.6,135.9 L574.8,135.5 L576.0,135.2 L577.2,134.8 L578.4,134.5 L579.5,134.1 L580.7,133.8 L581.9,133.4 L583.1,133.1 L584.3,132.7 L585.4,132.4 L586.6,132.0 L587.8,131.7 L589.0,131.3 L590.2,131.0 L591.4,130.6 L592.5,130.3 L593.7,130.0 L594.9,129.6 L596.1,129.3 L597.3,128.9 L598.4,128.6 L599.6,128.2 L600.8,127.9 L602.0,127.5 L603.2,127.2 L604.3,126.9 L605.5,126.5 L606.7,126.2 L607.9,125.8 L609.1,125.5 L610.2,125.2 L611.4,124.8 L612.6,124.5 L613.8,124.1 L615.0,123.8 L616.2,123.5 L617.3,123.1 L618.5,122.8 L619.7,122.5 L620.9,122.1 L622.1,121.8 L623.2,121.5 L624.4,121.1 L625.6,120.8 L626.8,120.5 L628.0,120.1 L629.1,119.8 L630.3,119.5 L631.5,119.2 L632.7,118.8 L633.9,118.5 L635.1,118.2 L636.2,117.9 L637.4,117.6 L638.6,117.2 L639.8,116.9 L641.0,116.6 L642.1,116.3 L643.3,116.0 L644.5,115.7 L645.7,115.4 L646.9,115.1 L648.0,114.8 L649.2,114.5 L650.4,114.2 L651.6,113.9 L652.8,113.6 L654.0,113.3 L655.1,113.1 L656.3,112.8 L657.5,112.5 L658.7,112.2 L659.9,112.0 L661.0,111.7 L662.2,111.5 L663.4,111.2 L664.6,111.0 L665.8,110.7 L667.0,110.5 L668.1,110.2 L669.3,110.0 L670.5,109.8 L671.7,109.6 L672.9,109.3 L674.0,109.1 L675.2,108.9 L676.4,108.7 L677.6,108.5 L678.8,108.3 L679.9,108.2 L681.1,108.0 L682.3,107.8 L683.5,107.7 L684.7,107.5 L685.9,107.4 L687.0,107.2 L688.2,107.1 L689.4,107.0 L690.6,106.9 L691.8,106.8 L692.9,106.7 L694.1,106.6 L695.3,106.5 L696.5,106.4 L697.7,106.3 L698.8,106.3 L700.0,106.2 L701.2,106.2 L702.4,106.1 L703.6,106.1 L704.8,106.1 L705.9,106.1 L707.1,106.1 L708.3,106.2 L709.5,106.2 L710.7,106.2 L711.8,106.3 L713.0,106.4 L714.2,106.5 L715.4,106.6 L716.6,106.7 L717.7,106.8 L718.9,107.0 L720.1,107.1 L721.3,107.3 L722.5,107.5 L723.7,107.7 L724.8,108.0 L726.0,108.2 L727.2,108.5 L728.4,108.8 L729.6,109.1 L730.7,109.5 L731.9,109.8 L733.1,110.2 L734.3,110.6 L735.5,111.1 L736.6,111.5 L737.8,112.0 L739.0,112.5 L740.2,113.1 L741.4,113.7 L742.5,114.3 L743.7,114.9 L744.9,115.6 L746.1,116.3 L747.3,117.0 L748.5,117.8 L749.6,118.6 L750.8,119.4 L752.0,120.3 L753.2,121.2 L754.4,122.2 L755.5,123.2 L756.7,124.3 L757.9,125.4 L759.1,126.5 L760.3,127.7 L761.5,128.9 L762.6,130.2 L763.8,131.6 L765.0,133.0 L766.2,134.4 L767.4,135.9 L768.5,137.5 L769.7,139.1 L770.9,140.8 L772.1,142.6 L773.3,144.4 L774.4,146.3 L775.6,148.2 L776.8,150.3 L778.0,152.4 L779.2,154.6 L780.4,156.8 L781.5,159.1 L782.7,161.6 L783.9,164.1 L785.1,166.7 L786.3,169.4 L787.4,172.1 L788.6,175.0 L789.8,178.0 L791.0,181.0 L792.2,184.2 L793.3,187.5 L794.5,190.9 L795.7,194.4 L796.9,198.0 L798.1,201.8 L799.2,205.7 L800.4,209.7 L801.6,213.8 L802.8,218.1 L804.0,222.5 L805.2,227.0 L806.3,231.7 L807.5,236.6 L808.7,241.6 L809.9,246.8 L811.1,252.1 L812.2,257.6 L813.4,263.3 L814.6,269.2 L815.8,275.2 L817.0,281.5 L818.2,287.9 L819.3,294.5 L820.5,301.4 L821.7,308.5 L822.9,315.7" stroke="#00ff00"/>
<path d="M506.3,60.7 L507.5,61.0 L508.7,61.4 L509.8,61.7 L511.0,62.1 L512.2,62.4 L513.4,62.8 L514.6,63.1 L515.8,63.4 L516.9,63.8 L518.1,64.1 L519.3,64.5 L520.5,64.8 L521.7,65.2 L522.8,65.5 L524.0,65.9 L525.2,66.2 L526.4,66.6 L527.6,66.9 L528.7,67.3 L529.9,67.6 L531.1,67.9 L532.3,68.3 L533.5,68.6 L534.6,69.0 L535.8,69.3 L537.0,69.7 L538.2,70.0 L539.4,70.4 L540.6,70.7 L541.7,71.1 L542.9,71.4 L544.1,71.8 L545.3,72.1 L546.5,72.5 L547.6,72.8 L548.8,73.2 L550.0,73.5 L551.2,73.9 L552.4,74.2 L553.5,74.6 L554.7,75.0 L555.9,75.3 L557.1,75.7 L558.3,76.0 L559.5,76.4 L560.6,76.7 L561.8,77.1 L563.0,77.4 L564.2,77.8 L565.4,78.1 L566.5,78.5 L567.7,78.8 L568.9,79.2 L570.1,79.5 L571.3,79.9 L572.5,80.3 L573.6,80.6 L574.8,81.0 L576.0,81.3 L577.2,81.7 L578.4,82.0 L579.5,82.4 L580.7,82.7 L581.9,83.1 L583.1,83.5 L584.3,83.8 L585.4,84.2 L586.6,84.5 L587.8,84.9 L589.0,85.2 L590.2,85.6 L591.4,86.0 L592.5,86.3 L593.7,86.7 L594.9,87.0 L596.1,87.4 L597.3,87.7 L598.4,88.1 L599.6,88.5 L600.8,88.8 L602.0,89.2 L603.2,89.5 L604.3,89.9 L605.5,90.3 L606.7,90.6 L607.9,91.0 L609.1,91.3 L610.2,91.7 L611.4,92.1 L612.6,92.4 L613.8,92.8 L615.0,93.1 L616.2,93.5 L617.3,93.9 L618.5,94.2 L619.7,94.6 L620.9,94.9 L622.1,95.3 L623.2,95.7 L624.4,96.1 L625.6,96.4 L626.8,96.8 L628.0,97.2 L629.1,97.5 L630.3,97.9 L631.5,98.3 L632.7,98.7 L633.9,99.0 L635.1,99.4 L636.2,99.8 L637.4,100.1 L638.6,100.5 L639.8,100.8 L641.0,101.2 L642.1,101.6 L643.3,101.9 L644.5,102.3 L645.7,102.6 L646.9,102.9 L648.0,103.3 L649.2,103.6 L650.4,103.9 L651.6,104.2 L652.8,104.5 L654.0,104.8 L655.1,105.0 L656.3,105.3 L657.5,105.6 L658.7,105.9 L659.9,106.2 L661.0,106.5 L662.2,106.8 L663.4,107.2 L664.6,107.5 L665.8,107.8 L667.0,108.2 L668.1,108.5 L669.3,108.9 L670.5,109.3 L671.7,109.7 L672.9,110.1 L674.0,110.5 L675.2,111.0 L676.4,111.4 L677.6,111.8 L678.8,112.2 L679.9,112.6 L681.1,113.1 L682.3,113.5 L683.5,113.9 L684.7,114.4 L685.9,114.8 L687.0,115.3 L688.2,115.8 L689.4,116.2 L690.6,116.7 L691.8,117.2 L692.9,117.7 L694.1,118.2 L695.3,118.7 L696.5,119.2 L697.7,119.8 L698.8,120.3 L700.0,120.8 L701.2,121.4 L702.4,121.9 L703.6,122.5 L704.8,123.1 L705.9,123.7 L707.1,124.3 L708.3,124.9 L709.5,125.5 L710.7,126.2 L711.8,126.8 L713.0,127.5 L714.2,128.2 L715.4,128.8 L716.6,129.6 L717.7,130.3 L718.9,131.0 L720.1,131.8 L721.3,132.5 L722.5,133.3 L723.7,134.2 L724.8,135.0 L726.0,135.9 L727.2,136.8 L728.4,137.8 L729.6,138.8 L730.7,139.8 L731.9,140.8 L733.1,141.9 L734.3,143.0 L735.5,144.1 L736.6,145.3 L737.8,146.5 L739.0,147.7 L740.2,148.9 L741.4,150.2 L742.5,151.5 L743.7,152.9 L744.9,154.3 L746.1,155.7 L747.3,157.2 L748.5,158.7 L749.6,160.3 L750.8,161.8 L752.0,163.5 L753.2,165.1 L754.4,166.8 L755.5,168.6 L756.7,170.4 L757.9,172.3 L759.1,174.2 L760.3,176.1 L761.5,178.2 L762.6,180.2 L763.8,182.4 L765.0,184.6 L766.2,186.8 L767.4,189.1 L768.5,191.5 L769.7,193.9 L770.9,196.5 L772.1,199.1 L773.3,201.8 L774.4,204.5 L775.6,207.4 L776.8,210.4 L778.0,213.4 L779.2,216.6 L780.4,219.8 L781.5,223.2 L782.7,226.6 L783.9,230.2 L785.1,233.8 L786.3,237.6 L787.4,241.5 L788.6,245.6 L789.8,249.7 L791.0,254.0 L792.2,258.4 L793.3,263.0 L794.5,267.7 L795.7,272.5 L796.9,277.5 L798.1,282.7 L799.2,288.0 L800.4,293.5 L801.6,299.1 L802.8,304.9 L804.0,310.9" stroke="#0000ff" stroke-dasharray="4.2 3.65"/>
<path d="M506.3,52.8 L507.5,53.2 L508.7,53.6 L509.8,54.1 L511.0,54.5 L512.2,54.9 L513.4,55.3 L514.6,55.7 L515.8,56.2 L516.9,56.6 L518.1,57.0 L519.3,57.4 L520.5,57.8 L521.7,58.3 L522.8,58.7 L524.0,59.1 L525.2,59.5 L526.4,60.0 L527.6,60.4 L528.7,60.8 L529.9,61.2 L531.1,61.6 L532.3,62.1 L533.5,62.5 L534.6,62.9 L535.8,63.3 L537.0,63.7 L538.2,64.2 L539.4,64.6 L540.6,65.0 L541.7,65.4 L542.9,65.9 L544.1,66.3 L545.3,66.7 L546.5,67.1 L547.6,67.5 L548.8,68.0 L550.0,68.4 L551.2,68.8 L552.4,69.2 L553.5,69.6 L554.7,70.1 L555.9,70.5 L557.1,70.9 L558.3,71.3 L559.5,71.8 L560.6,72.2 L561.8,72.6 L563.0,73.0 L564.2,73.4 L565.4,73.9 L566.5,74.3 L567.7,74.7 L568.9,75.1 L570.1,75.5 L571.3,76.0 L572.5,76.4 L573.6,76.8 L574.8,77.2 L576.0,77.7 L577.2,78.1 L578.4,78.5 L579.5,78.9 L580.7,79.3 L581.9,79.8 L583.1,80.2 L584.3,80.6 L585.4,81.0 L586.6,81.4 L587.8,81.9 L589.0,82.3 L590.2,82.7 L591.4,83.1 L592.5,83.6 L593.7,84.0 L594.9,84.4 L596.1,84.8 L597.3,85.2 L598.4,85.7 L599.6,86.1 L600.8,86.5 L602.0,86.9 L603.2,87.4 L604.3,87.8 L605.5,88.2 L606.7,88.6 L607.9,89.0 L609.1,89.5 L610.2,89.9 L611.4,90.3 L612.6,90.7 L613.8,91.1 L615.0,91.6 L616.2,92.0 L617.3,92.4 L618.5,92.8 L619.7,93.3 L620.9,93.7 L622.1,94.1 L623.2,94.5 L624.4,94.9 L625.6,95.4 L626.8,95.8 L628.0,96.2 L629.1,96.6 L630.3,97.1 L631.5,97.5 L632.7,97.9 L633.9,98.3 L635.1,98.7 L636.2,99.2 L637.4,99.6 L638.6,100.0 L639.8,100.4 L641.0,100.9 L642.1,101.3 L643.3,101.7 L644.5,102.1 L645.7,102.6 L646.9,103.0 L648.0,103.4 L649.2,103.8 L650.4,104.3 L651.6,104.7 L652.8,105.1 L654.0,105.5 L655.1,106.0 L656.3,106.4 L657.5,106.8 L658.7,107.3 L659.9,107.7 L661.0,108.1 L662.2,108.6 L663.4,109.0 L664.6,109.4 L665.8,109.9 L667.0,110.3 L668.1,110.7 L669.3,111.2 L670.5,111.6 L671.7,112.1 L672.9,112.5 L674.0,113.0 L675.2,113.4 L676.4,113.9 L677.6,114.3 L678.8,114.8 L679.9,115.2 L681.1,115.7 L682.3,116.1 L683.5,116.6 L684.7,117.1 L685.9,117.6 L687.0,118.0 L688.2,118.5 L689.4,119.0 L690.6,119.5 L691.8,120.0 L692.9,120.5 L694.1,121.0 L695.3,121.5 L696.5,122.1 L697.7,122.6 L698.8,123.1 L700.0,123.7 L701.2,124.2 L702.4,124.8 L703.6,125.3 L704.8,125.9 L705.9,126.5 L707.1,127.1 L708.3,127.7 L709.5,128.3 L710.7,129.0 L711.8,129.6 L713.0,130.2 L714.2,130.9 L715.4,131.6 L716.6,132.3 L717.7,133.0 L718.9,133.7 L720.1,134.5 L721.3,135.2 L722.5,136.0 L723.7,136.8 L724.8,137.6 L726.0,138.5 L727.2,139.3 L728.4,140.2 L729.6,141.1 L730.7,142.0 L731.9,143.0 L733.1,144.0 L734.3,145.0 L735.5,146.0 L736.6,147.1 L737.8,148.2 L739.0,149.3 L740.2,150.4 L741.4,151.6 L742.5,152.8 L743.7,154.1 L744.9,155.4 L746.1,156.7 L747.3,158.1 L748.5,159.5 L749.6,161.0 L750.8,162.5 L752.0,164.0 L753.2,165.6 L754.4,167.3 L755.5,169.0 L756.7,170.7 L757.9,172.5 L759.1,174.4 L760.3,176.3 L761.5,178.3 L762.6,180.3 L763.8,182.4 L765.0,184.6 L766.2,186.8 L767.4,189.1 L768.5,191.5 L769.7,193.9 L770.9,196.5 L772.1,199.1 L773.3,201.8 L774.4,204.5 L775.6,207.4 L776.8,210.4 L778.0,213.4 L779.2,216.6 L780.4,219.8 L781.5,223.2 L782.7,226.6 L783.9,230.2 L785.1,233.8 L786.3,237.6 L787.4,241.5 L788.6,245.6 L789.8,249.7 L791.0,254.0 L792.2,258.4 L793.3,263.0 L794.5,267.7 L795.7,272.5 L796.9,277.5 L798.1,282.7 L799.2,288.0 L800.4,293.5 L801.6,299.1 L802.8,304.9 L804.0,310.9" stroke="#ff0000"/>
<path d="M506.3,291.8 L507.5,291.4 L508.7,291.1 L509.8,290.7 L511.0,290.4 L512.2,290.0 L513.4,289.7 L514.6,289.3 L515.8,289.0 L516.9,288.6 L518.1,288.3 L519.3,287.9 L520.5,287.5 L521.7,287.2 L522.8,286.8 L524.0,286.5 L525.2,286.1 L526.4,285.8 L527.6,285.4 L528.7,285.1 L529.9,284.7 L531.1,284.4 L532.3,284.0 L533.5,283.7 L534.6,283.3 L535.8,283.0 L537.0,282.6 L538.2,282.2 L539.4,281.9 L540.6,281.5 L541.7,281.2 L542.9,280.8 L544.1,280.5 L545.3,280.1 L546.5,279.8 L547.6,279.4 L548.8,279.1 L550.0,278.7 L551.2,278.4 L552.4,278.0 L553.5,277.7 L554.7,277.3 L555.9,276.9 L557.1,276.6 L558.3,276.2 L559.5,275.9 L560.6,275.5 L561.8,275.2 L563.0,274.8 L564.2,274.5 L565.4,274.1 L566.5,273.8 L567.7,273.4 L568.9,273.1 L570.1,272.7 L571.3,272.4 L572.5,272.0 L573.6,271.7 L574.8,271.3 L576.0,271.0 L577.2,270.6 L578.4,270.3 L579.5,269.9 L580.7,269.6 L581.9,269.2 L583.1,268.9 L584.3,268.5 L585.4,268.2 L586.6,267.8 L587.8,267.5 L589.0,267.1 L590.2,266.8 L591.4,266.4 L592.5,266.1 L593.7,265.7 L594.9,265.4 L596.1,265.0 L597.3,264.7 L598.4,264.3 L599.6,264.0 L600.8,263.6 L602.0,263.3 L603.2,263.0 L604.3,262.6 L605.5,262.3 L606.7,261.9 L607.9,261.6 L609.1,261.2 L610.2,260.9 L611.4,260.6 L612.6,260.2 L613.8,259.9 L615.0,259.5 L616.2,259.2 L617.3,258.9 L618.5,258.5 L619.7,258.2 L620.9,257.8 L622.1,257.5 L623.2,257.2 L624.4,256.8 L625.6,256.5 L626.8,256.2 L628.0,255.9 L629.1,255.5 L630.3,255.2 L631.5,254.9 L632.7,254.5 L633.9,254.2 L635.1,253.9 L636.2,253.6 L637.4,253.3 L638.6,252.9 L639.8,252.6 L641.0,252.3 L642.1,252.0 L643.3,251.7 L644.5,251.4 L645.7,251.1 L646.9,250.8 L648.0,250.5 L649.2,250.2 L650.4,249.9 L651.6,249.6 L652.8,249.3 L654.0,249.0 L655.1,248.7 L656.3,248.4 L657.5,248.1 L658.7,247.8 L659.9,247.6 L661.0,247.3 L662.2,247.0 L663.4,246.7 L664.6,246.5 L665.8,246.2 L667.0,246.0 L668.1,245.7 L669.3,245.5 L670.5,245.2 L671.7,245.0 L672.9,244.7 L674.0,244.5 L675.2,244.3 L676.4,244.1 L677.6,243.8 L678.8,243.6 L679.9,243.4 L681.1,243.2 L682.3,243.0 L683.5,242.8 L684.7,242.7 L685.9,242.5 L687.0,242.3 L688.2,242.2 L689.4,242.0 L690.6,241.9 L691.8,241.7 L692.9,241.6 L694.1,241.5 L695.3,241.4 L696.5,241.3 L697.7,241.2 L698.8,241.1 L700.0,241.0 L701.2,241.0 L702.4,240.9 L703.6,240.9 L704.8,240.8 L705.9,240.8 L707.1,240.8 L708.3,240.8 L709.5,240.8 L710.7,240.9 L711.8,240.9 L713.0,241.0 L714.2,241.1 L715.4,241.2 L716.6,241.3 L717.7,241.4 L718.9,241.5 L720.1,241.7 L721.3,241.9 L722.5,242.0 L723.7,242.3 L724.8,242.5 L726.0,242.7 L727.2,243.0 L728.4,243.3 L729.6,243.6 L730.7,244.0 L731.9,244.3 L733.1,244.7 L734.3,245.1 L735.5,245.5 L736.6,246.0 L737.8,246.5 L739.0,247.0 L740.2,247.6 L741.4,248.1 L742.5,248.7 L743.7,249.4 L744.9,250.0 L746.1,250.7 L747.3,251.5 L748.5,252.3 L749.6,253.1 L750.8,253.9 L752.0,254.8 L753.2,255.7 L754.4,256.7 L755.5,257.7 L756.7,258.8 L757.9,259.9 L759.1,261.0 L760.3,262.2 L761.5,263.4 L762.6,264.7 L763.8,266.1 L765.0,267.5 L766.2,268.9 L767.4,270.4 L768.5,272.0 L769.7,273.6 L770.9,275.3 L772.1,277.1 L773.3,278.9 L774.4,280.8 L775.6,282.7 L776.8,284.8 L778.0,286.9 L779.2,289.0 L780.4,291.3 L781.5,293.6 L782.7,296.0 L783.9,298.6 L785.1,301.1 L786.3,303.8 L787.4,306.6 L788.6,309.5 L789.8,312.5 L791.0,315.5" stroke="#800080"/>
<path d="M506.3,291.8 L507.5,291.4 L508.7,291.1 L509.8,290.7 L511.0,290.4 L512.2,290.0 L513.4,289.7 L514.6,289.3 L515.8,289.0 L516.9,288.6 L518.1,288.3 L519.3,287.9 L520.5,287.5 L521.7,287.2 L522.8,286.8 L524.0,286.5 L525.2,286.1 L526.4,285.8 L527.6,285.4 L528.7,285.1 L529.9,284.7 L531.1,284.4 L532.3,284.0 L533.5,283.7 L534.6,283.3 L535.8,283.0 L537.0,282.6 L538.2,282.2 L539.4,281.9 L540.6,281.5 L541.7,281.2 L542.9,280.8 L544.1,280.5 L545.3,280.1 L546.5,279.8 L547.6,279.4 L548.8,279.1 L550.0,278.7 L551.2,278.4 L552.4,278.0 L553.5,277.7 L554.7,277.3 L555.9,276.9 L557.1,276.6 L558.3,276.2 L559.5,275.9 L560.6,275.5 L561.8,275.2 L563.0,274.8 L564.2,274.5 L565.4,274.1 L566.5,273.8 L567.7,273.4 L568.9,273.1 L570.1,272.7 L571.3,272.4 L572.5,272.0 L573.6,271.7 L574.8,271.3 L576.0,271.0 L577.2,270.6 L578.4,270.3 L579.5,269.9 L580.7,269.6 L581.9,269.2 L583.1,268.9 L584.3,268.5 L585.4,268.2 L586.6,267.8 L587.8,267.5 L589.0,267.1 L590.2,266.8 L591.4,266.4 L592.5,266.1 L593.7,265.7 L594.9,265.4 L596.1,265.0 L597.3,264.7 L598.4,264.3 L599.6,264.0 L600.8,263.6 L602.0,263.3 L603.2,263.0 L604.3,262.6 L605.5,262.3 L606.7,261.9 L607.9,261.6 L609.1,261.2 L610.2,260.9 L611.4,260.6 L612.6,260.2 L613.8,259.9 L615.0,259.5 L616.2,259.2 L617.3,258.9 L618.5,258.5 L619.7,258.2 L620.9,257.8 L622.1,257.5 L623.2,257.2 L624.4,256.8 L625.6,256.5 L626.8,256.2 L628.0,255.9 L629.1,255.5 L630.3,255.2 L631.5,254.9 L632.7,254.5 L633.9,254.2 L635.1,253.9 L636.2,253.6 L637.4,253.3 L638.6,252.9 L639.8,252.6 L641.0,252.3 L642.1,252.0 L643.3,251.7 L644.5,251.4 L645.7,251.1 L646.9,250.8 L648.0,250.5 L649.2,250.2 L650.4,249.9 L651.6,249.6 L652.8,249.3 L654.0,249.0 L655.1,248.7 L656.3,248.4 L657.5,248.1 L658.7,247.8 L659.9,247.6 L661.0,247.3 L662.2,247.0 L663.4,246.7 L664.6,246.5 L665.8,246.2 L667.0,246.0 L668.1,245.7 L669.3,245.5 L670.5,245.2 L671.7,245.0 L672.9,244.7 L674.0,244.5 L675.2,244.3 L676.4,244.1 L677.6,243.8 L678.8,243.6 L679.9,243.4 L681.1,243.2 L682.3,243.0 L683.5,242.8 L684.7,242.7 L685.9,242.5 L687.0,242.3 L688.2,242.2 L689.4,242.0 L690.6,241.9 L691.8,241.7 L692.9,241.6 L694.1,241.5 L695.3,241.4 L696.5,241.3 L697.7,241.2 L698.8,241.1 L700.0,241.0 L701.2,241.0 L702.4,240.9 L703.6,240.9 L704.8,240.8 L705.9,240.8 L707.1,240.8 L708.3,240.8 L709.5,240.8 L710.7,240.9 L711.8,240.9 L713.0,241.0 L714.2,241.1 L715.4,241.2 L716.6,241.3 L717.7,241.4 L718.9,241.5 L720.1,241.7 L721.3,241.9 L722.5,242.0 L723.7,242.3 L724.8,242.5 L726.0,242.7 L727.2,243.0 L728.4,243.3 L729.6,243.6 L730.7,244.0 L731.9,244.3 L733.1,244.7 L734.3,245.1 L735.5,245.5 L736.6,246.0 L737.8,246.5 L739.0,247.0 L740.2,247.6 L741.4,248.1 L742.5,248.7 L743.7,249.4 L744.9,250.0 L746.1,250.7 L747.3,251.5 L748.5,252.3 L749.6,253.1 L750.8,253.9 L752.0,254.8 L753.2,255.7 L754.4,256.7 L755.5,257.7 L756.7,258.8 L757.9,259.9 L759.1,261.0 L760.3,262.2 L761.5,263.4 L762.6,264.7 L763.8,266.1 L765.0,267.5 L766.2,268.9 L767.4,270.4 L768.5,272.0 L769.7,273.6 L770.9,275.3 L772.1,277.1 L773.3,278.9 L774.4,280.8 L775.6,282.7 L776.8,284.8 L778.0,286.9 L779.2,289.0 L780.4,291.3 L781.5,293.6 L782.7,296.0 L783.9,298.6 L785.1,301.1 L786.3,303.8 L787.4,306.6 L788.6,309.5 L789.8,312.5 L791.0,315.5" stroke="#ff00ff" stroke-dasharray="4.2 3.65"/>
<path d="M506.3,16.0 L507.5,16.7 L508.7,17.4 L509.8,18.1 L511.0,18.8 L512.2,19.5 L513.4,20.2 L514.6,21.0 L515.8,21.7 L516.9,22.4 L518.1,23.1 L519.3,23.8 L520.5,24.5 L521.7,25.2 L522.8,25.9 L524.0,26.6 L525.2,27.3 L526.4,28.0 L527.6,28.7 L528.7,29.5 L529.9,30.2 L531.1,30.9 L532.3,31.6 L533.5,32.3 L534.6,33.0 L535.8,33.7 L537.0,34.4 L538.2,35.1 L539.4,35.8 L540.6,36.5 L541.7,37.2 L542.9,38.0 L544.1,38.7 L545.3,39.4 L546.5,40.1 L547.6,40.8 L548.8,41.5 L550.0,42.2 L551.2,42.9 L552.4,43.6 L553.5,44.3 L554.7,45.0 L555.9,45.7 L557.1,46.5 L558.3,47.2 L559.5,47.9 L560.6,48.6 L561.8,49.3 L563.0,50.0 L564.2,50.7 L565.4,51.4 L566.5,52.1 L567.7,52.8 L568.9,53.5 L570.1,54.2 L571.3,55.0 L572.5,55.7 L573.6,56.4 L574.8,57.1 L576.0,57.8 L577.2,58.5 L578.4,59.2 L579.5,59.9 L580.7,60.6 L581.9,61.3 L583.1,62.0 L584.3,62.7 L585.4,63.5 L586.6,64.2 L587.8,64.9 L589.0,65.6 L590.2,66.3 L591.4,67.0 L592.5,67.7 L593.7,68.4 L594.9,69.1 L596.1,69.8 L597.3,70.5 L598.4,71.2 L599.6,72.0 L600.8,72.7 L602.0,73.4 L603.2,74.1 L604.3,74.8 L605.5,75.5 L606.7,76.2 L607.9,76.9 L609.1,77.6 L610.2,78.3 L611.4,79.0 L612.6,79.7 L613.8,80.5 L615.0,81.2 L616.2,81.9 L617.3,82.6 L618.5,83.3 L619.7,84.0 L620.9,84.7 L622.1,85.4 L623.2,86.1 L624.4,86.8 L625.6,87.5 L626.8,88.2 L628.0,88.9 L629.1,89.7 L630.3,90.4 L631.5,91.1 L632.7,91.8 L633.9,92.5 L635.1,93.2 L636.2,93.9 L637.4,94.6 L638.6,95.3 L639.8,96.0 L641.0,96.7 L642.1,97.4 L643.3,98.2 L644.5,98.9 L645.7,99.6 L646.9,100.3 L648.0,101.0 L649.2,101.7 L650.4,102.4 L651.6,103.1 L652.8,103.8 L654.0,104.5 L655.1,105.2 L656.3,105.9 L657.5,106.7 L658.7,107.4 L659.9,108.1 L661.0,108.8 L662.2,109.5 L663.4,110.2 L664.6,110.9 L665.8,111.6 L667.0,112.3 L668.1,113.0 L669.3,113.7 L670.5,114.4 L671.7,115.2 L672.9,115.9 L674.0,116.6 L675.2,117.3 L676.4,118.0 L677.6,118.7 L678.8,119.4 L679.9,120.1 L681.1,120.8 L682.3,121.5 L683.5,122.2 L684.7,122.9 L685.9,123.7 L687.0,124.4 L688.2,125.1 L689.4,125.8 L690.6,126.5 L691.8,127.2 L692.9,127.9 L694.1,128.6 L695.3,129.3 L696.5,130.0 L697.7,130.7 L698.8,131.4 L700.0,132.2 L701.2,132.9 L702.4,133.6 L703.6,134.3 L704.8,135.0 L705.9,135.7 L707.1,136.4 L708.3,137.1 L709.5,137.8 L710.7,138.5 L711.8,139.2 L713.0,139.9 L714.2,140.7 L715.4,141.4 L716.6,142.1 L717.7,142.8 L718.9,143.5 L720.1,144.2 L721.3,144.9 L722.5,145.6 L723.7,146.3 L724.8,147.0 L726.0,147.7 L727.2,148.4 L728.4,149.2 L729.6,149.9 L730.7,150.6 L731.9,151.3 L733.1,152.0 L734.3,152.7 L735.5,153.4 L736.6,154.1 L737.8,154.8 L739.0,155.5 L740.2,156.2 L741.4,156.9 L742.5,157.7 L743.7,158.4 L744.9,159.1 L746.1,159.8 L747.3,160.5 L748.5,161.2 L749.6,161.9 L750.8,162.6 L752.0,163.3 L753.2,164.0 L754.4,164.7 L755.5,165.4 L756.7,166.1 L757.9,166.9 L759.1,167.6 L760.3,168.3 L761.5,169.0 L762.6,169.7 L763.8,170.4 L765.0,171.1 L766.2,171.8 L767.4,172.5 L768.5,173.2 L769.7,173.9 L770.9,174.6 L772.1,175.4 L773.3,176.1 L774.4,176.8 L775.6,177.5 L776.8,178.2 L778.0,178.9 L779.2,179.6 L780.4,180.3 L781.5,181.0 L782.7,181.7 L783.9,182.4 L785.1,183.1 L786.3,183.9 L787.4,184.6 L788.6,185.3 L789.8,186.0 L791.0,186.7 L792.2,187.4 L793.3,188.1 L794.5,188.8 L795.7,189.5 L796.9,190.2 L798.1,190.9 L799.2,191.6 L800.4,192.4 L801.6,193.1 L802.8,193.8 L804.0,194.5 L805.2,195.2 L806.3,195.9 L807.5,196.6 L808.7,197.3 L809.9,198.0 L811.1,198.7 L812.2,199.4 L813.4,200.1 L814.6,200.9 L815.8,201.6 L817.0,202.3 L818.2,203.0 L819.3,203.7 L820.5,204.4 L821.7,205.1 L822.9,205.8 L824.1,206.5 L825.2,207.2 L826.4,207.9 L827.6,208.6 L828.8,209.4 L830.0,210.1 L831.1,210.8 L832.3,211.5 L833.5,212.2 L834.7,212.9 L835.9,213.6 L837.0,214.3 L838.2,215.0 L839.4,215.7 L840.6,216.4 L841.8,217.1 L843.0,217.9 L844.1,218.6 L845.3,219.3 L846.5,220.0 L847.7,220.7 L848.9,221.4 L850.0,222.1 L851.2,222.8 L852.4,223.5 L853.6,224.2 L854.8,224.9 L856.0,225.6 L857.1,226.4 L858.3,227.1 L859.5,227.8 L860.7,228.5 L861.9,229.2 L863.0,229.9 L864.2,230.6 L865.4,231.3 L866.6,232.0 L867.8,232.7 L868.9,233.4 L870.1,234.1 L871.3,234.8 L872.5,235.6 L873.7,236.3 L874.9,237.0 L876.0,237.7 L877.2,238.4 L878.4,239.1 L879.6,239.8 L880.8,240.5 L881.9,241.2 L883.1,241.9 L884.3,242.6" stroke="#000000"/>
</g>
<g stroke="#000" stroke-width="2.0" fill="none">
<path d="M534.75,299.3 v-3.3 M534.75,16.0 v3.3"/>
<path d="M551.39,299.3 v-3.3 M551.39,16.0 v3.3"/>
<path d="M563.19,299.3 v-3.3 M563.19,16.0 v3.3"/>
<path d="M572.35,299.3 v-3.3 M572.35,16.0 v3.3"/>
<path d="M579.84,299.3 v-3.3 M579.84,16.0 v3.3"/>
<path d="M586.16,299.3 v-3.3 M586.16,16.0 v3.3"/>
<path d="M591.64,299.3 v-3.3 M591.64,16.0 v3.3"/>
<path d="M596.48,299.3 v-3.3 M596.48,16.0 v3.3"/>
<path d="M600.80,299.3 v-6.2 M600.80,16.0 v6.2"/>
<path d="M629.25,299.3 v-3.3 M629.25,16.0 v3.3"/>
<path d="M645.89,299.3 v-3.3 M645.89,16.0 v3.3"/>
<path d="M657.69,299.3 v-3.3 M657.69,16.0 v3.3"/>
<path d="M666.85,299.3 v-3.3 M666.85,16.0 v3.3"/>
<path d="M674.34,299.3 v-3.3 M674.34,16.0 v3.3"/>
<path d="M680.66,299.3 v-3.3 M680.66,16.0 v3.3"/>
<path d="M686.14,299.3 v-3.3 M686.14,16.0 v3.3"/>
<path d="M690.98,299.3 v-3.3 M690.98,16.0 v3.3"/>
<path d="M695.30,299.3 v-6.2 M695.30,16.0 v6.2"/>
<path d="M723.75,299.3 v-3.3 M723.75,16.0 v3.3"/>
<path d="M740.39,299.3 v-3.3 M740.39,16.0 v3.3"/>
<path d="M752.19,299.3 v-3.3 M752.19,16.0 v3.3"/>
<path d="M761.35,299.3 v-3.3 M761.35,16.0 v3.3"/>
<path d="M768.84,299.3 v-3.3 M768.84,16.0 v3.3"/>
<path d="M775.16,299.3 v-3.3 M775.16,16.0 v3.3"/>
<path d="M780.64,299.3 v-3.3 M780.64,16.0 v3.3"/>
<path d="M785.48,299.3 v-3.3 M785.48,16.0 v3.3"/>
<path d="M789.80,299.3 v-6.2 M789.80,16.0 v6.2"/>
<path d="M818.25,299.3 v-3.3 M818.25,16.0 v3.3"/>
<path d="M834.89,299.3 v-3.3 M834.89,16.0 v3.3"/>
<path d="M846.69,299.3 v-3.3 M846.69,16.0 v3.3"/>
<path d="M855.85,299.3 v-3.3 M855.85,16.0 v3.3"/>
<path d="M863.34,299.3 v-3.3 M863.34,16.0 v3.3"/>
<path d="M869.66,299.3 v-3.3 M869.66,16.0 v3.3"/>
<path d="M875.14,299.3 v-3.3 M875.14,16.0 v3.3"/>
<path d="M879.98,299.3 v-3.3 M879.98,16.0 v3.3"/>
<path d="M506.30,270.97 h5.8 M884.30,270.97 h-5.8"/>
<path d="M506.30,242.64 h5.8 M884.30,242.64 h-5.8"/>
<path d="M506.30,214.31 h5.8 M884.30,214.31 h-5.8"/>
<path d="M506.30,185.98 h5.8 M884.30,185.98 h-5.8"/>
<path d="M506.30,157.65 h5.8 M884.30,157.65 h-5.8"/>
<path d="M506.30,129.32 h5.8 M884.30,129.32 h-5.8"/>
<path d="M506.30,100.99 h5.8 M884.30,100.99 h-5.8"/>
<path d="M506.30,72.66 h5.8 M884.30,72.66 h-5.8"/>
<path d="M506.30,44.33 h5.8 M884.30,44.33 h-5.8"/>
</g>
<g font-family="Liberation Serif, serif" font-size="12px" fill="#000">
<text x="506.30" y="316.80" text-anchor="middle">10<tspan dx="-0.6" dy="-4.4" font-size="8.4px">–2</tspan></text>
<text x="600.80" y="316.80" text-anchor="middle">10<tspan dx="-0.6" dy="-4.4" font-size="8.4px">–1</tspan></text>
<text x="695.30" y="312.80" text-anchor="middle">1</text>
<text x="789.80" y="312.80" text-anchor="middle">10</text>
<text x="884.30" y="316.80" text-anchor="middle">10<tspan dx="-0.6" dy="-4.4" font-size="8.4px">2</tspan></text>
<text x="502.90" y="49.63" text-anchor="end">10<tspan dx="-0.6" dy="-4.4" font-size="8.4px">3</tspan></text>
<text x="502.90" y="104.99" text-anchor="end">1</text>
<text x="502.90" y="162.95" text-anchor="end">10<tspan dx="-0.6" dy="-4.4" font-size="8.4px">–1</tspan></text>
<text x="502.90" y="219.61" text-anchor="end">10<tspan dx="-0.6" dy="-4.4" font-size="8.4px">–3</tspan></text>
<text x="502.90" y="276.27" text-anchor="end">10<tspan dx="-0.6" dy="-4.4" font-size="8.4px">–5</tspan></text>
<text y="337.3"><tspan x="670.40" font-style="italic">z</tspan><tspan x="691.90" font-style="italic">M</tspan><tspan x="702.20" dy="2.4" font-size="8.4px">0</tspan><tspan x="707.70" dy="-2.4">/</tspan><tspan x="711.70" font-style="italic">T</tspan></text>
<rect x="679.80" y="332.0" width="8" height="0.9"/>
<rect x="679.80" y="334.9" width="8" height="0.9"/>
<text transform="translate(470.30,157.5) rotate(-90)" text-anchor="middle" letter-spacing="1">Γ/<tspan font-style="italic">H</tspan></text>
<text y="217.4"><tspan x="519.7">I</tspan><tspan x="523.5">O,</tspan><tspan x="541.10" font-style="italic">μ</tspan><tspan x="562.30">10</tspan><tspan x="574.80" dy="-4.4" font-size="8.4px">−8</tspan><tspan x="585.10" dy="4.4">GeV,</tspan><tspan x="615.70" font-style="italic">M</tspan><tspan x="626.40" dy="2.5" font-size="8.4px">0</tspan><tspan x="645.40" dy="-2.5">10</tspan><tspan x="657.10" dy="-4.4" font-size="8.4px">3</tspan><tspan x="661.30" dy="4.4" textLength="21.2" lengthAdjust="spacingAndGlyphs">GeV</tspan></text>
<rect x="551.50" y="212.4" width="8" height="0.9"/>
<rect x="551.50" y="215.4" width="8" height="0.9"/>
<rect x="634.40" y="212.4" width="8" height="0.9"/>
<rect x="634.40" y="215.4" width="8" height="0.9"/>
</g>
<g fill="none" stroke-width="2.1">
<path d="M806.00,39.0 H830.30" stroke="#00ff00"/>
<path d="M806.80,68.6 H830.30" stroke="#0000ff" stroke-dasharray="4.2 3.65"/>
<path d="M806.00,98.3 H830.30" stroke="#ff0000"/>
<path d="M806.00,128.4 H830.30" stroke="#800080"/>
<path d="M806.80,158.0 H830.30" stroke="#ff00ff" stroke-dasharray="4.2 3.65"/>
<path d="M806.00,187.5 H830.30" stroke="#000"/>
</g>
<g font-family="Liberation Serif, serif" font-size="12px" fill="#000">
<text x="839.10" y="43.20">Γ</text><text x="846.40" y="46.00" font-size="8.6px" font-style="italic">D</text>
<text x="839.10" y="72.80">Γ</text><text x="846.70" y="67.60" font-size="9px" font-style="italic">S</text><text x="846.40" y="75.40" font-size="8.6px" textLength="26.6" lengthAdjust="spacing">Yukawa</text>
<text x="839.10" y="102.50">Γ</text><text x="846.70" y="97.30" font-size="9px" font-style="italic">S</text><text x="846.40" y="105.10" font-size="8.6px" textLength="22.0" lengthAdjust="spacing">Gauge</text>
<rect x="839.80" y="127.95" width="6.6" height="0.95"/><text x="847.70" y="132.60">Γ</text><text x="855.00" y="135.40" font-size="9.2px" textLength="22.2" lengthAdjust="spacing">Δ<tspan font-style="italic">L</tspan>=2</text>
<rect x="839.80" y="157.55" width="6.6" height="0.95"/><text x="847.70" y="162.20">Γ</text><text x="855.00" y="165.00" font-size="9.2px" textLength="22.2" lengthAdjust="spacing">Δ<tspan font-style="italic">L</tspan>=0</text>
<text x="839.70" y="191.30" font-style="italic">H</text>
</g>
</svg>
</body></html>
